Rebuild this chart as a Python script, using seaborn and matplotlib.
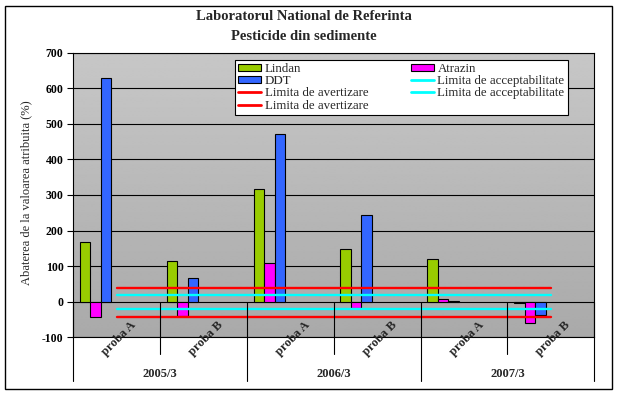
import numpy as np
import pandas as pd
import matplotlib
matplotlib.use("Agg")
import matplotlib.pyplot as plt
import matplotlib.transforms as mtransforms
from matplotlib.patches import Rectangle, Patch
from matplotlib.lines import Line2D
import seaborn as sns

# valori
categorii = ["2005/3 proba A", "2005/3 proba B", "2006/3 proba A",
             "2006/3 proba B", "2007/3 proba A", "2007/3 proba B"]
probe = ["proba A", "proba B", "proba A", "proba B", "proba A", "proba B"]
sesiuni = ["2005/3", "2006/3", "2007/3"]

lindan = [169, 115, 317, 149, 119, -5]
atrazin = [-43, -40, 108, -19, 8, -59]
ddt = [628, 67, 472, 244, 3, -37]

avert_sup = [38, 38, 38, 38, 38, 38]
accept_sup = [19, 19, 19, 19, 19, 19]
accept_inf = [-21, -21, -21, -21, -21, -21]
avert_inf = [-44, -44, -44, -44, -44, -44]

y_ticks = [-100, 0, 100, 200, 300, 400, 500, 600, 700]

sns.set_style("white")
plt.rcParams["font.family"] = ["Liberation Serif", "DejaVu Serif"]
plt.rcParams["axes.unicode_minus"] = False

df = pd.DataFrame({
    "proba": categorii * 3,
    "pesticid": ["Lindan"] * 6 + ["Atrazin"] * 6 + ["DDT"] * 6,
    "abatere": lindan + atrazin + ddt,
})

# Excel rezerva 7 locuri pe categorie, doar primele 3 au bare
hue_order = ["Lindan", "Atrazin", "DDT", "gol1", "gol2", "gol3", "gol4"]
pal = {"Lindan": "#99CC00", "Atrazin": "#FF00FF", "DDT": "#3366FF",
       "gol1": "white", "gol2": "white", "gol3": "white", "gol4": "white"}

fig = plt.figure(figsize=(6.19, 3.95), dpi=100)
ax = fig.add_axes([73.2 / 619, 1 - 337.3 / 395, (594.3 - 73.2) / 619, (337.3 - 52.5) / 395])

# fundal gri in degrade
grad = np.linspace(0.78, 0.665, 200)[:, None]
ax.imshow(grad, extent=(-0.5, 5.5, -100, 700), aspect="auto", cmap="gray",
          vmin=0, vmax=1, zorder=0, interpolation="bilinear")

sns.barplot(data=df, x="proba", y="abatere", hue="pesticid", order=categorii,
            hue_order=hue_order, palette=pal, width=0.846, gap=0, saturation=1,
            edgecolor="black", linewidth=0.8, errorbar=None, legend=False,
            ax=ax, zorder=2)

idx = np.arange(len(categorii))
for vals, col in [(avert_sup, "#FF0000"), (accept_sup, "#00FFFF"),
                  (accept_inf, "#00FFFF"), (avert_inf, "#FF0000")]:
    sns.lineplot(x=idx, y=vals, color=col, lw=1.7, ax=ax, zorder=3, legend=False)

ax.set_xlim(-0.5, 5.5)
ax.set_ylim(-100, 700)
ax.set_yticks(y_ticks)
ax.set_xticks([])
ax.set_xlabel("")
ax.set_ylabel("")
ax.yaxis.grid(True, color="black", lw=0.8)
ax.set_axisbelow(True)
ax.tick_params(axis="y", left=True, length=4, width=0.8, pad=3, labelsize=8.5,
               colors="black")
for lab in ax.get_yticklabels():
    lab.set_fontweight("bold")
for sp in ax.spines.values():
    sp.set_visible(True)
    sp.set_color("black")
    sp.set_linewidth(0.8)

# axa categoriilor pe doua niveluri
trans = mtransforms.blended_transform_factory(ax.transData, ax.transAxes)
y0 = 0.125
for xb in [0.5, 2.5, 4.5]:
    ax.plot([xb, xb], [y0, -0.0597], color="black", lw=0.8, transform=trans,
            clip_on=False, zorder=4)
for xb in [-0.5, 1.5, 3.5, 5.5]:
    ax.plot([xb, xb], [y0, -0.1534], color="black", lw=0.8, transform=trans,
            clip_on=False, zorder=4)
for i, p in enumerate(probe):
    ax.text(i + 0.03, -0.006, p, rotation=45, ha="center", va="center",
            fontsize=9, fontweight="bold", transform=trans, zorder=5)
for j, s in enumerate(sesiuni):
    ax.text(2 * j + 0.5, -0.129, s, ha="center", va="center", fontsize=9,
            fontweight="bold", transform=trans)

fig.text(26.7 / 619, 1 - 192.5 / 395, "Abaterea de la valoarea atribuita (%)",
         rotation=90, ha="center", va="center", fontsize=9)
fig.text(304 / 619, 1 - 17 / 395, "Laboratorul National de Referinta",
         ha="center", va="center", fontsize=10.5, fontweight="bold")
fig.text(304 / 619, 1 - 36 / 395, "Pesticide din sedimente",
         ha="center", va="center", fontsize=10.5, fontweight="bold")

handles = [
    Patch(facecolor="#99CC00", edgecolor="black", lw=0.8),
    Patch(facecolor="#3366FF", edgecolor="black", lw=0.8),
    Line2D([], [], color="#FF0000", lw=2),
    Line2D([], [], color="#FF0000", lw=2),
    Patch(facecolor="#FF00FF", edgecolor="black", lw=0.8),
    Line2D([], [], color="#00FFFF", lw=2),
    Line2D([], [], color="#00FFFF", lw=2),
]
labels = ["Lindan", "DDT", "Limita de avertizare", "Limita de avertizare",
          "Atrazin", "Limita de acceptabilitate", "Limita de acceptabilitate"]
leg = fig.legend(handles, labels, loc="upper left",
                 bbox_to_anchor=(235 / 619, 1 - 59.7 / 395), ncol=2,
                 frameon=True, fancybox=False, edgecolor="black", framealpha=1,
                 fontsize=9.3, handlelength=1.75, handleheight=0.5,
                 handletextpad=0.3, labelspacing=0.02, columnspacing=3.3,
                 borderpad=0.25, borderaxespad=0)
leg.get_frame().set_linewidth(0.8)

fig.patches.append(Rectangle((5 / 619, 1 - 389.3 / 395), 607.3 / 619, 383.3 / 395,
                             transform=fig.transFigure, fill=False,
                             edgecolor="black", lw=1))

fig.savefig("out.png", dpi=100)
